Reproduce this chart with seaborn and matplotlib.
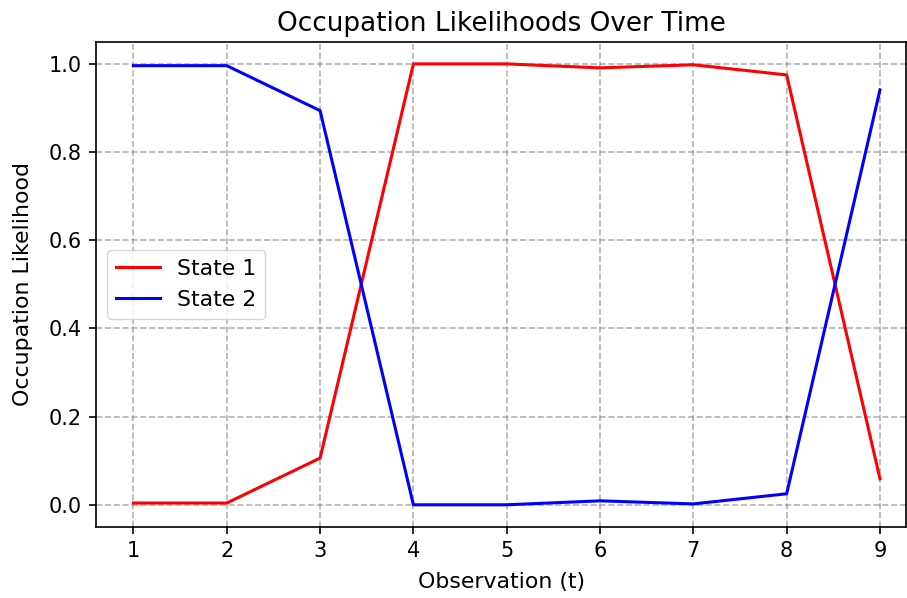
import matplotlib
matplotlib.use("Agg")
import matplotlib.pyplot as plt
import seaborn as sns
import pandas as pd

observations = [1, 2, 3, 4, 5, 6, 7, 8, 9]
state1 = [0.004, 0.004, 0.106, 1.0, 1.0, 0.991, 0.998, 0.975, 0.059]
state2 = [0.996, 0.996, 0.894, 0.0, 0.0, 0.009, 0.002, 0.025, 0.941]
series_names = ["State 1", "State 2"]
colors = ["red", "blue"]

df = pd.DataFrame({
    "t": observations * 2,
    "value": state1 + state2,
    "state": [series_names[0]] * len(observations) + [series_names[1]] * len(observations),
})

fig = plt.figure(figsize=(9.07, 5.98), dpi=100)
ax = fig.add_axes([0.106, 0.119, 0.893, 0.811])
sns.lineplot(data=df, x="t", y="value", hue="state", palette=colors, linewidth=2.2, ax=ax)

ax.set_title("Occupation Likelihoods Over Time", fontsize=18.9, pad=8)
ax.set_xlabel("Observation (t)", fontsize=15.8, labelpad=8)
ax.set_ylabel("Occupation Likelihood", fontsize=15.8, labelpad=11)
ax.set_xticks(observations)
ax.set_xlim(0.6, 9.28)
ax.set_ylim(-0.05, 1.05)
ax.tick_params(labelsize=15, length=5.2, width=1.2, pad=5)
ax.grid(True, linestyle="--", color="gray", alpha=0.6, linewidth=1.2)
for s in ax.spines.values():
    s.set_linewidth(1.2)
leg = ax.legend(loc="center left", fontsize=15.8, bbox_to_anchor=(0.0, 0.5))
fig.savefig("out.png", dpi=100)
